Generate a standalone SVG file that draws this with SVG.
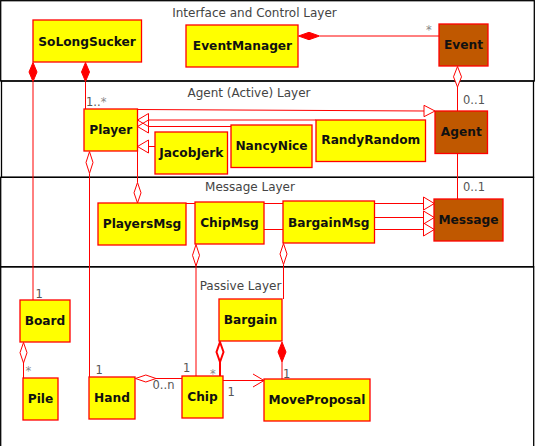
<svg xmlns="http://www.w3.org/2000/svg" width="535" height="446" viewBox="0 0 535 446">
<style>
.layer{fill:none;stroke:#000;stroke-width:1.3}
.ltitle{font-family:"DejaVu Sans",sans-serif;font-size:12px;fill:#444;text-anchor:middle}
.n rect{stroke:#f00;stroke-width:1.3}
.y{fill:#ff0}
.b{fill:#c05800}
.n text{font-family:"DejaVu Sans",sans-serif;font-size:12.2px;font-weight:bold;fill:#111;text-anchor:middle}
.c line,.c polyline{stroke:#f00;stroke-width:1;fill:none}
.c .hollow{fill:#fff;stroke:#f00;stroke-width:1}
.c .filled{fill:#f00;stroke:#f00;stroke-width:1}
.c .tri{fill:none;stroke:#f00;stroke-width:1}
.m{font-family:"DejaVu Sans",sans-serif;font-size:11.5px;fill:#555}
.s{font-family:"DejaVu Sans",sans-serif;font-size:11.5px;fill:#888}
</style>
<g id="layers">
<rect class="layer" x="0.7" y="0.7" width="533.6" height="80.3"/>
<rect class="layer" x="1.5" y="81" width="532" height="96.3"/>
<rect class="layer" x="0.7" y="177.3" width="532.8" height="89.5"/>
<rect class="layer" x="0.7" y="266.8" width="533" height="185"/>
<text class="ltitle" x="254.5" y="16.7">Interface and Control Layer</text>
<text class="ltitle" x="249" y="96.5">Agent (Active) Layer</text>
<text class="ltitle" x="250" y="191">Message Layer</text>
<text class="ltitle" x="240.5" y="289.5">Passive Layer</text>
</g>
<g id="connectors" class="c">
<line x1="33" y1="82" x2="33" y2="300"/>
<polygon class="filled" points="33,62.5 37,72 33,81.5 29,72"/>
<line x1="85.5" y1="82" x2="85.5" y2="109"/>
<polygon class="filled" points="85.5,62.5 89.5,72 85.5,81.5 81.5,72"/>
<line x1="320" y1="36" x2="439" y2="36"/>
<polygon class="filled" points="298.5,36 309,32.3 319.5,36 309,39.7"/>
<line x1="457.5" y1="87" x2="457.5" y2="111"/>
<polygon class="hollow" points="457.5,66.5 461.5,76.8 457.5,87 453.5,76.8"/>
<line x1="457.5" y1="153.5" x2="457.5" y2="199"/>
<polyline points="137.5,109.5 424,111"/>
<polygon class="tri" points="424,105.3 435,111 424,116.7"/>
<line x1="316" y1="120" x2="148.5" y2="120"/>
<polygon class="tri" points="148.5,113.5 137.5,120 148.5,126.5"/>
<line x1="231" y1="126.5" x2="148.5" y2="126.5"/>
<polygon class="tri" points="148.5,120 137.5,126.5 148.5,133"/>
<line x1="155" y1="146.5" x2="148.5" y2="146.5"/>
<polygon class="tri" points="148.5,140 137.5,146.5 148.5,153"/>
<line x1="137.5" y1="151" x2="137.5" y2="182.5"/>
<polygon class="hollow" points="137.5,182.5 141,192.8 137.5,203 134,192.8"/>
<line x1="89.5" y1="173.3" x2="89.5" y2="377"/>
<polygon class="hollow" points="89.5,151.7 93,162.5 89.5,173.3 86,162.5"/>
<line x1="186" y1="203.5" x2="423.5" y2="203.5"/>
<polygon class="tri" points="423.5,197 434.3,203.5 423.5,210"/>
<line x1="374.5" y1="217.5" x2="423.5" y2="217.5"/>
<polygon class="tri" points="423.5,211 434.3,217.5 423.5,224"/>
<line x1="264" y1="229.5" x2="423.5" y2="229.5"/>
<polygon class="tri" points="423.5,223 434.3,229.5 423.5,236"/>
<line x1="196" y1="266" x2="196" y2="376"/>
<polygon class="hollow" points="196,244.5 199.5,255.3 196,266 192.5,255.3"/>
<line x1="283.5" y1="264.5" x2="283.5" y2="299"/>
<polygon class="hollow" points="283.5,243.5 287,254 283.5,264.5 280,254"/>
<line x1="156" y1="378.5" x2="182" y2="378.5"/>
<polygon class="hollow" points="135.5,378.5 145.8,375 156,378.5 145.8,382"/>
<line x1="23.5" y1="363" x2="23.5" y2="378"/>
<polygon class="hollow" points="23.5,342.5 27,352.7 23.5,363 20,352.7"/>
<line x1="220" y1="362" x2="220" y2="376" style="stroke-width:2"/>
<polygon class="hollow" points="220,342 223.5,352 220,362 216.5,352" style="stroke-width:2"/>
<line x1="282" y1="362" x2="282" y2="379"/>
<polygon class="filled" points="282,342 286,352 282,362 278,352"/>
<line x1="223" y1="380.5" x2="264" y2="380.5"/>
<polyline points="253,374 264,380.5 253,387"/>
<text class="s" x="426" y="34">*</text>
<text class="m" x="86" y="105.8">1..<tspan fill="#888">*</tspan></text>
<text class="m" x="463" y="104">0..1</text>
<text class="m" x="463" y="190.7">0..1</text>
<text class="m" x="35.5" y="298">1</text>
<text class="s" x="25.5" y="375">*</text>
<text class="m" x="95.5" y="374">1</text>
<text class="m" x="152.5" y="389">0..n</text>
<text class="m" x="183" y="372">1</text>
<text class="s" x="210" y="378">*</text>
<text class="m" x="283" y="378">1</text>
<text class="m" x="227.5" y="396">1</text>
</g>
<g id="SoLongSucker" class="n"><rect class="y" x="33" y="20" width="108.5" height="42"/><text x="87" y="45.5">SoLongSucker</text></g>
<g id="EventManager" class="n"><rect class="y" x="186" y="25" width="112" height="42"/><text x="242.5" y="50">EventManager</text></g>
<g id="Event" class="n"><rect class="b" x="439" y="24" width="49" height="42"/><text x="463.5" y="49">Event</text></g>
<g id="Player" class="n"><rect class="y" x="84" y="109" width="53.5" height="42"/><text x="110.8" y="133.7">Player</text></g>
<g id="JacobJerk" class="n"><rect class="y" x="155" y="132" width="72.5" height="42"/><text x="191.3" y="156.7">JacobJerk</text></g>
<g id="NancyNice" class="n"><rect class="y" x="231" y="125" width="81" height="42.5"/><text x="271.5" y="150">NancyNice</text></g>
<g id="RandyRandom" class="n"><rect class="y" x="316" y="120" width="109.5" height="41.5"/><text x="370.8" y="144">RandyRandom</text></g>
<g id="Agent" class="n"><rect class="b" x="435" y="111" width="52.5" height="42.5"/><text x="461.3" y="136">Agent</text></g>
<g id="PlayersMsg" class="n"><rect class="y" x="98" y="203" width="88" height="42"/><text x="142" y="228.3">PlayersMsg</text></g>
<g id="ChipMsg" class="n"><rect class="y" x="195" y="202" width="69" height="42"/><text x="229.5" y="227.3">ChipMsg</text></g>
<g id="BargainMsg" class="n"><rect class="y" x="283" y="201" width="91.5" height="42"/><text x="328.8" y="226.5">BargainMsg</text></g>
<g id="Message" class="n"><rect class="b" x="434" y="199" width="69" height="42"/><text x="468.5" y="224.3">Message</text></g>
<g id="Board" class="n"><rect class="y" x="20" y="300" width="50" height="42"/><text x="45" y="325.3">Board</text></g>
<g id="Pile" class="n"><rect class="y" x="23" y="378" width="35" height="42"/><text x="40.5" y="403">Pile</text></g>
<g id="Hand" class="n"><rect class="y" x="89" y="377" width="46" height="42"/><text x="112" y="402">Hand</text></g>
<g id="Chip" class="n"><rect class="y" x="182" y="376" width="41" height="42"/><text x="202.5" y="401.3">Chip</text></g>
<g id="Bargain" class="n"><rect class="y" x="219" y="299" width="63" height="42"/><text x="250.5" y="324.3">Bargain</text></g>
<g id="MoveProposal" class="n"><rect class="y" x="264" y="379" width="106" height="42"/><text x="317" y="404.3">MoveProposal</text></g>
</svg>
